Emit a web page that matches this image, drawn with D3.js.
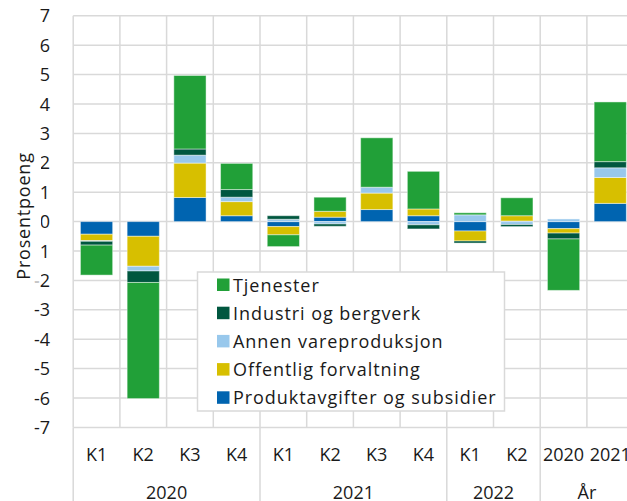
<!DOCTYPE html>
<html>
<head>
<meta charset="utf-8">
<script src="https://cdn.jsdelivr.net/npm/d3@7"></script>
<style>
html, body { margin: 0; padding: 0; background: #fff; }
svg { display: block; font-family: "Open Sans", sans-serif; }
</style>
</head>
<body>
<svg id="chart" width="627" height="501"></svg>
<script>
// x categories, grouped by year
var categories = ["K1", "K2", "K3", "K4", "K1", "K2", "K3", "K4", "K1", "K2", "2020", "2021"];
var groupLabels = ["2020", "2021", "2022", "År"];
var groupSizes = [4, 4, 2, 2];

// contributions in percentage points
var produkt   = [-0.43, -0.50, 0.82, 0.20, -0.17,  0.15, 0.41,  0.20, -0.32,  0.02, -0.24, 0.62];
var offentlig = [-0.22, -1.02, 1.17, 0.48, -0.28,  0.20, 0.56,  0.23, -0.34,  0.18, -0.15, 0.88];
var annen     = [-0.02, -0.16, 0.27, 0.15,  0.08, -0.08, 0.20, -0.11,  0.23, -0.10,  0.09, 0.33];
var industri  = [-0.13, -0.39, 0.21, 0.26,  0.12, -0.08, 0.00, -0.14, -0.07, -0.07, -0.20, 0.21];
var tjenester = [-1.02, -3.95, 2.50, 0.89, -0.40,  0.48, 1.68,  1.28,  0.07,  0.61, -1.75, 2.03];

var yTicks = [7, 6, 5, 4, 3, 2, 1, 0, -1, -2, -3, -4, -5, -6, -7];

// stack order from zero outwards
var seriesNames = ["Produktavgifter og subsidier", "Offentlig forvaltning", "Annen vareproduksjon", "Industri og bergverk", "Tjenester"];
var seriesValues = [produkt, offentlig, annen, industri, tjenester];
var seriesColors = ["#0064b0", "#d7bf00", "#98c8ec", "#00573f", "#21a038"];

var rows = categories.map(function (c, i) {
    var row = {idx: i};
    seriesNames.forEach(function (name, s) { row[name] = seriesValues[s][i]; });
    return row;
});

var svg = d3.select("#chart");
var gridColor = "#d9d9d9";
var textColor = "#1a1a1a";

var x = d3.scaleBand()
    .domain(d3.range(categories.length))
    .range([73.2, 633.6])
    .paddingInner(0.31)
    .paddingOuter(0.155);

var y = d3.scaleLinear()
    .domain([-7, 7])
    .range([427.4, 15.8]);

var left = x.range()[0];
var right = x.range()[1];

//Grid
svg.append("g").selectAll("line")
    .data(yTicks)
    .join("line")
    .attr("x1", left)
    .attr("x2", right)
    .attr("y1", function (d) { return y(d); })
    .attr("y2", function (d) { return y(d); })
    .attr("stroke", gridColor)
    .attr("stroke-width", 1.5);

var bounds = d3.range(categories.length + 1).map(function (k) { return left + k * x.step(); });
svg.append("g").selectAll("line")
    .data(bounds)
    .join("line")
    .attr("x1", function (d) { return d; })
    .attr("x2", function (d) { return d; })
    .attr("y1", y(7))
    .attr("y2", y(-7))
    .attr("stroke", gridColor)
    .attr("stroke-width", 1.5);

//Group separators run down through the label area
var groupStarts = [0];
groupSizes.forEach(function (n, g) { groupStarts.push(groupStarts[g] + n); });
svg.append("g").selectAll("line")
    .data(groupStarts)
    .join("line")
    .attr("x1", function (d) { return bounds[d]; })
    .attr("x2", function (d) { return bounds[d]; })
    .attr("y1", y(-7))
    .attr("y2", 501)
    .attr("stroke", gridColor)
    .attr("stroke-width", 1.5);

//Bars
var stack = d3.stack()
    .keys(seriesNames)
    .offset(d3.stackOffsetDiverging);
var layers = stack(rows);

svg.append("g").selectAll("g")
    .data(layers)
    .join("g")
    .attr("fill", function (d, i) { return seriesColors[i]; })
    .selectAll("rect")
    .data(function (d) { return d; })
    .join("rect")
    .attr("x", function (d) { return x(d.data.idx); })
    .attr("width", x.bandwidth())
    .attr("y", function (d) { return y(Math.max(d[0], d[1])); })
    .attr("height", function (d) { return Math.abs(y(d[0]) - y(d[1])); })
    .attr("stroke", "rgba(255,255,255,0.45)")
    .attr("stroke-width", 1);

//Y tick labels
svg.append("g").selectAll("text")
    .data(yTicks)
    .join("text")
    .attr("x", 50)
    .attr("y", function (d) { return y(d) + 6.5; })
    .attr("text-anchor", "end")
    .attr("font-size", "18px")
    .attr("fill", textColor)
    .text(function (d) { return String(d); });

//Y title, on a white box as in the original
var yTitle = svg.append("g").attr("transform", "translate(30,216) rotate(-90)");
var yTitleBg = yTitle.append("rect").attr("fill", "#fff");
var yTitleText = yTitle.append("text")
    .attr("x", 0)
    .attr("y", 0)
    .attr("text-anchor", "middle")
    .attr("font-size", "18px")
    .attr("letter-spacing", "0.8px")
    .attr("fill", textColor)
    .text("Prosentpoeng");
var bb = yTitleText.node().getBBox();
yTitleBg.attr("x", bb.x - 2).attr("y", bb.y - 2).attr("width", bb.width + 4).attr("height", bb.height + 4 + 4);

//X labels
svg.append("g").selectAll("text")
    .data(categories)
    .join("text")
    .attr("x", function (d, i) { return x(i) + x.bandwidth() / 2; })
    .attr("y", 461)
    .attr("text-anchor", "middle")
    .attr("font-size", "18px")
    .attr("fill", textColor)
    .text(function (d) { return d; });

svg.append("g").selectAll("text")
    .data(groupLabels)
    .join("text")
    .attr("x", function (d, g) { return (bounds[groupStarts[g]] + bounds[groupStarts[g + 1]]) / 2; })
    .attr("y", 499)
    .attr("text-anchor", "middle")
    .attr("font-size", "18px")
    .attr("fill", textColor)
    .text(function (d) { return d; });

//Legend
var legend = svg.append("g");
legend.append("rect")
    .attr("x", 197.5)
    .attr("y", 272)
    .attr("width", 307)
    .attr("height", 139)
    .attr("fill", "#fff")
    .attr("stroke", gridColor)
    .attr("stroke-width", 1.5);

var legendOrder = d3.range(seriesNames.length).reverse();
var item = legend.selectAll("g")
    .data(legendOrder)
    .join("g")
    .attr("transform", function (d, k) { return "translate(217," + (278.5 + k * 28.2) + ")"; });
item.append("rect")
    .attr("width", 12.5)
    .attr("height", 12.5)
    .attr("fill", function (d) { return seriesColors[d]; });
item.append("text")
    .attr("x", 16)
    .attr("y", 13)
    .attr("font-size", "18px")
    .attr("letter-spacing", "0.95px")
    .attr("fill", textColor)
    .text(function (d) { return seriesNames[d]; });
</script>
</body>
</html>
